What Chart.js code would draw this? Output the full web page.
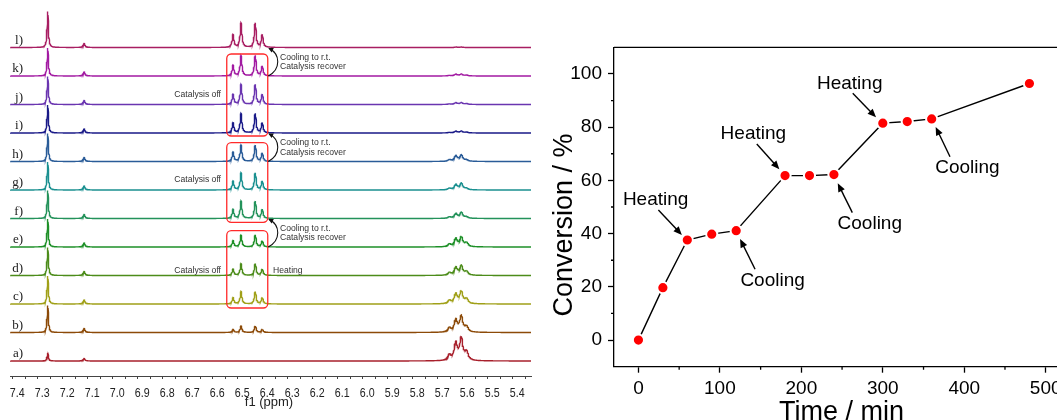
<!DOCTYPE html>
<html>
<head>
<meta charset="utf-8">
<script src="https://cdn.jsdelivr.net/npm/chart.js@4.4.1/dist/chart.umd.min.js"></script>
<style>
  html, body { margin: 0; padding: 0; background: #fff; overflow: hidden; width: 1057px; height: 420px; }
  #nmrBox  { position: absolute; left: 0;     top: 0; width: 540px; height: 420px; }
  #convBox { position: absolute; left: 540px; top: 0; width: 540px; height: 420px; }
</style>
</head>
<body>
<div id="nmrBox"><canvas id="nmr" width="540" height="420"></canvas></div>
<div id="convBox"><canvas id="conv" width="540" height="420"></canvas></div>
<script>
// ---------- 1H NMR stack (CDCl3), traces a) at the bottom to l) at the top ----------
const traceLabels = ['a)', 'b)', 'c)', 'd)', 'e)', 'f)', 'g)', 'h)', 'i)', 'j)', 'k)', 'l)'];
const traceColors = ['#A8202C', '#8C4A08', '#A0A018', '#4C8C1A', '#1E9028', '#23925A',
                     '#1A9090', '#2A5C98', '#1A1A88', '#6A35B0', '#A21AA2', '#A81E62'];

// peak positions (ppm) and Lorentzian half widths (ppm)
const peakShifts     = [7.260, 7.115, 6.519, 6.487, 6.430, 6.402, 5.654, 5.628, 5.606, 5.585];
const peakHalfWidths = [0.003, 0.0045, 0.0042, 0.0042, 0.0042, 0.0042, 0.0075, 0.0075, 0.0075, 0.0075];

// peak intensities of every trace, same order as peakShifts
const intensA = [8,  2.5, 0,    0,    0,    0,    5.5, 17,  22,  8.5];
const intensB = [27, 4,   3,    6.5,  6.5,  3.2,  4.2, 12,  15.5, 5.5];
const intensC = [28, 4,   6.3,  12.3, 12.3, 6.3,  3.3, 9.6, 12,  4.8];
const intensD = [28, 4,   6.3,  11.7, 11.7, 6.3,  2.6, 7.7, 9.2, 3.8];
const intensE = [28, 4,   6.3,  11.7, 12,   6,    2.6, 7.9, 9.5, 4];
const intensF = [28, 4,   9,    17.3, 17.3, 9,    1.4, 4.5, 5.8, 1.4];
const intensG = [28, 4,   8.7,  17,   17,   8.7,  1.5, 5.1, 6.4, 1.4];
const intensH = [28, 4,   9.3,  16.3, 16.3, 8.3,  1.5, 5.4, 6.1, 1.4];
const intensI = [28, 4,   10,   19.3, 19.3, 10,   0.5, 1.7, 1.7, 0.8];
const intensJ = [28, 4,   10,   20,   20,   10,   0.5, 1.7, 1.7, 0.8];
const intensK = [28, 4,   10.7, 20.3, 20.3, 9.7,  0.5, 1.7, 1.7, 0.8];
const intensL = [36, 4,   12.7, 24.3, 24.3, 12.7, 0,   0.4, 0.4, 0];
const traceIntensities = [intensA, intensB, intensC, intensD, intensE, intensF,
                          intensG, intensH, intensI, intensJ, intensK, intensL];

const ppmTickLabels = ['7.4','7.3','7.2','7.1','7.0','6.9','6.8','6.7','6.6','6.5','6.4',
                       '6.3','6.2','6.1','6.0','5.9','5.8','5.7','5.6','5.5','5.4'];

// ---------- conversion vs. time ----------
const timeMin       = [0, 30, 60, 90, 120, 180, 210, 240, 300, 330, 360, 480];
const conversionPct = [0, 19.7, 37.6, 39.8, 41.1, 61.8, 61.8, 62.2, 81.5, 82.1, 83.1, 96.4];
const timeTicks = [0, 100, 200, 300, 400, 500];
const convTicks = [0, 20, 40, 60, 80, 100];

const SANS  = '"Liberation Sans", Arial, Helvetica, sans-serif';
const SERIF = '"Liberation Serif", "Times New Roman", serif';

// ---------------------------------------------------------------------------
const PPM_MIN = 5.327, PPM_MAX = 7.411;
const TRACE_STEP = 28.5;   // vertical offset between stacked traces

const ppmGrid = [];
for (let k = 0; PPM_MIN + k * 0.0008 <= PPM_MAX; k++) ppmGrid.push(PPM_MIN + k * 0.0008);
peakShifts.forEach(p => ppmGrid.push(p));
ppmGrid.sort((a, b) => a - b);

function buildTrace(intens, offset) {
  return ppmGrid.map(x => {
    let y = 0;
    for (let k = 0; k < peakShifts.length; k++) {
      const a = intens[k];
      if (!a) continue;
      const d = (x - peakShifts[k]) / peakHalfWidths[k];
      y += a / (1 + d * d);
    }
    return { x: x, y: y + offset };
  });
}

function arrowHead(ctx, tx, ty, ang, len, half) {
  ctx.beginPath();
  ctx.moveTo(tx, ty);
  ctx.lineTo(tx - len * Math.cos(ang) + half * Math.sin(ang), ty - len * Math.sin(ang) - half * Math.cos(ang));
  ctx.lineTo(tx - len * Math.cos(ang) - half * Math.sin(ang), ty - len * Math.sin(ang) + half * Math.cos(ang));
  ctx.closePath();
  ctx.fill();
}

function roundRect(ctx, x0, y0, x1, y1, r) {
  ctx.beginPath();
  ctx.moveTo(x0 + r, y0);
  ctx.lineTo(x1 - r, y0);
  ctx.arcTo(x1, y0, x1, y0 + r, r);
  ctx.lineTo(x1, y1 - r);
  ctx.arcTo(x1, y1, x1 - r, y1, r);
  ctx.lineTo(x0 + r, y1);
  ctx.arcTo(x0, y1, x0, y1 - r, r);
  ctx.lineTo(x0, y0 + r);
  ctx.arcTo(x0, y0, x0 + r, y0, r);
  ctx.closePath();
  ctx.stroke();
}

// decorations of the NMR stack: axis labels, trace labels, boxes, arrows, notes
const nmrDecor = {
  id: 'nmrDecor',
  afterDraw(chart) {
    const { ctx, scales: { x, y } } = chart;
    const base = (i, off) => y.getPixelForValue(i * TRACE_STEP + (off || 0));
    ctx.save();

    // ppm tick labels (condensed)
    ctx.fillStyle = '#222';
    ctx.font = '13px ' + SANS;
    ctx.textAlign = 'center';
    ctx.textBaseline = 'middle';
    ppmTickLabels.forEach(t => {
      const px = x.getPixelForValue(parseFloat(t)) + 4.5;
      ctx.save();
      ctx.translate(px, x.top + 17);
      ctx.scale(0.82, 1);
      ctx.fillText(t, 0, 0);
      ctx.restore();
    });
    ctx.font = '13px ' + SANS;
    ctx.fillText('f1 (ppm)', 269, x.top + 26);

    // trace labels
    ctx.font = '13px ' + SERIF;
    ctx.textAlign = 'right';
    ctx.textBaseline = 'alphabetic';
    traceLabels.forEach((lab, i) => {
      ctx.fillStyle = '#222';
      ctx.fillText(lab, 23, base(i) - 4);
    });

    // red frames round the olefinic signals
    ctx.strokeStyle = '#FF2A2A';
    ctx.lineWidth = 1.3;
    const bx0 = x.getPixelForValue(6.544), bx1 = x.getPixelForValue(6.380);
    [[10, 22, 8, -3], [7, 18.8, 5, -3.8], [4, 16.3, 2, -4]].forEach(b => {
      roundRect(ctx, bx0, base(b[0], b[1]), bx1, base(b[2], b[3]), 4.5);
    });

    // curved arrows between neighbouring traces
    ctx.strokeStyle = '#111';
    ctx.fillStyle = '#111';
    ctx.lineWidth = 1.1;
    const ax = x.getPixelForValue(6.378);
    [[10, 11], [7, 8], [4, 5]].forEach(a => {
      const yLow = base(a[0]), yUp = base(a[1]) + 0.5;
      ctx.beginPath();
      ctx.moveTo(ax, yLow);
      ctx.bezierCurveTo(ax + 13, yLow - 7, ax + 12, yUp + 6, ax + 1, yUp + 0.5);
      ctx.stroke();
      arrowHead(ctx, ax, yUp, Math.atan2(-5.5, -11), 5, 2.4);
    });

    // notes
    ctx.fillStyle = '#333';
    ctx.font = '8.6px ' + SANS;
    ctx.textBaseline = 'middle';
    ctx.textAlign = 'left';
    const nx = x.getPixelForValue(6.331);
    [11, 8, 5].forEach(i => {
      ctx.fillText('Cooling to r.t.', nx, base(i) + 9.8);
      ctx.fillText('Catalysis recover', nx, base(i) + 19.3);
    });
    ctx.textAlign = 'right';
    const ox = x.getPixelForValue(6.567);
    [[9, -10], [6, -10], [3, -5]].forEach(c => ctx.fillText('Catalysis off', ox, base(c[0]) + c[1]));
    ctx.textAlign = 'left';
    ctx.fillText('Heating', x.getPixelForValue(6.359), base(3) - 4.7);

    ctx.restore();
  }
};

new Chart(document.getElementById('nmr'), {
  type: 'line',
  data: {
    datasets: traceIntensities.map((intens, i) => ({
      label: traceLabels[i],
      data: buildTrace(intens, i * TRACE_STEP),
      borderColor: traceColors[i],
      borderWidth: 1.4,
      pointRadius: 0,
      tension: 0,
      fill: false
    }))
  },
  options: {
    responsive: false,
    devicePixelRatio: 1,
    animation: false,
    events: [],
    parsing: false,
    normalized: true,
    layout: { padding: { left: 10, right: 9, top: 0, bottom: 0 } },
    plugins: { legend: { display: false }, tooltip: { enabled: false } },
    scales: {
      x: {
        type: 'linear', reverse: true, min: PPM_MIN, max: PPM_MAX,
        afterBuildTicks: s => {
          const t = [];
          for (let k = 107; k <= 148; k++) t.push({ value: k * 0.05 });
          s.ticks = t;
        },
        afterFit: s => { s.height = 44; },
        grid: { drawOnChartArea: false, drawTicks: true, tickLength: 3, tickColor: '#444', tickWidth: 1 },
        border: { display: true, color: '#444', width: 1 },
        ticks: { display: false }
      },
      y: { type: 'linear', display: false, min: -15, max: 361 }
    }
  },
  plugins: [nmrDecor]
});

// ---------- conversion chart ----------
const notes = [
  { text: 'Heating', tx: 21.1,  ty: 50.6, from: [24.5, 48.9],  to: [53.3, 39.5] },
  { text: 'Cooling', tx: 164.7, ty: 20.3, from: [143.2, 26.6], to: [124.8, 38.0] },
  { text: 'Heating', tx: 141.1, ty: 75.7, from: [145.3, 73.7], to: [173.0, 64.2] },
  { text: 'Cooling', tx: 284.0, ty: 41.9, from: [262.6, 47.9], to: [244.7, 58.9] },
  { text: 'Heating', tx: 259.4, ty: 94.5, from: [263.1, 92.7], to: [291.7, 83.7] },
  { text: 'Cooling', tx: 403.9, ty: 62.8, from: [382.5, 68.9], to: [364.9, 80.1] }
];

const convDecor = {
  id: 'convDecor',
  afterDraw(chart) {
    const { ctx, chartArea: ca, scales: { x, y } } = chart;
    ctx.save();
    ctx.strokeStyle = '#000';
    ctx.fillStyle = '#000';
    ctx.lineWidth = 1.3;

    // top frame
    ctx.beginPath();
    ctx.moveTo(ca.left, ca.top);
    ctx.lineTo(ca.right + 2, ca.top);
    ctx.stroke();

    // minor ticks
    ctx.beginPath();
    [50, 150, 250, 350, 450].forEach(v => {
      const px = x.getPixelForValue(v);
      ctx.moveTo(px, ca.bottom); ctx.lineTo(px, ca.bottom + 3);
    });
    [10, 30, 50, 70, 90].forEach(v => {
      const py = y.getPixelForValue(v);
      ctx.moveTo(ca.left, py); ctx.lineTo(ca.left - 3, py);
    });
    ctx.stroke();

    // Heating / Cooling notes with arrows
    ctx.font = '19px ' + SANS;
    ctx.textAlign = 'center';
    ctx.textBaseline = 'alphabetic';
    ctx.lineWidth = 1.4;
    notes.forEach(n => {
      ctx.fillText(n.text, x.getPixelForValue(n.tx), y.getPixelForValue(n.ty));
      const x0 = x.getPixelForValue(n.from[0]), y0 = y.getPixelForValue(n.from[1]);
      const x1 = x.getPixelForValue(n.to[0]),   y1 = y.getPixelForValue(n.to[1]);
      const ang = Math.atan2(y1 - y0, x1 - x0);
      ctx.beginPath();
      ctx.moveTo(x0, y0);
      ctx.lineTo(x1 - 6 * Math.cos(ang), y1 - 6 * Math.sin(ang));
      ctx.stroke();
      arrowHead(ctx, x1, y1, ang, 8.5, 3.6);
    });

    // axis titles
    ctx.font = '27px ' + SANS;
    ctx.textAlign = 'center';
    ctx.fillText('Time / min', (ca.left + ca.right) / 2 + 3.5, 419.5);
    ctx.save();
    ctx.translate(ca.left - 42.5, (ca.top + ca.bottom) / 2 + 18);
    ctx.rotate(-Math.PI / 2);
    ctx.fillText('Conversion / %', 0, 0);
    ctx.restore();

    ctx.restore();
  }
};

new Chart(document.getElementById('conv'), {
  type: 'scatter',
  data: {
    datasets: [{
      data: timeMin.map((t, i) => ({ x: t, y: conversionPct[i] })),
      showLine: true,
      borderColor: '#000',
      borderWidth: 1.4,
      pointRadius: 5.6,
      pointBackgroundColor: '#FF0000',
      pointBorderColor: '#FFFFFF',
      pointBorderWidth: 2,
      clip: false
    }]
  },
  options: {
    responsive: false,
    devicePixelRatio: 1,
    animation: false,
    events: [],
    layout: { padding: { left: 0, right: 18, top: 47.3, bottom: 0 } },
    plugins: { legend: { display: false }, tooltip: { enabled: false } },
    scales: {
      x: {
        type: 'linear', min: -30, max: 520,
        afterBuildTicks: s => { s.ticks = timeTicks.map(v => ({ value: v })); },
        afterFit: s => { s.height = 53.3; },
        grid: { drawOnChartArea: false, drawTicks: true, tickLength: 6, tickColor: '#000', tickWidth: 1.3 },
        border: { display: true, color: '#000', width: 1.3 },
        ticks: { color: '#000', font: { size: 19, family: SANS }, padding: 5, maxRotation: 0, autoSkip: false }
      },
      y: {
        type: 'linear', min: -10, max: 110,
        afterBuildTicks: s => { s.ticks = convTicks.map(v => ({ value: v })); },
        afterFit: s => { s.width = 74; },
        grid: { drawOnChartArea: false, drawTicks: true, tickLength: 6, tickColor: '#000', tickWidth: 1.3 },
        border: { display: true, color: '#000', width: 1.3 },
        ticks: { color: '#000', font: { size: 19, family: SANS }, padding: 6, autoSkip: false }
      }
    }
  },
  plugins: [convDecor]
});
</script>
</body>
</html>
